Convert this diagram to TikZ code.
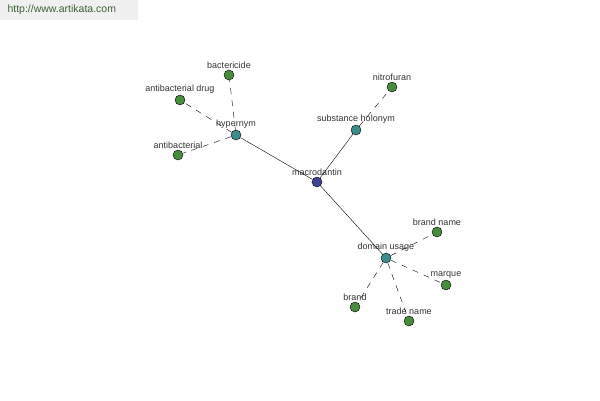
\documentclass[tikz,border=0pt]{standalone}
\usepackage{fontspec}
\setmainfont{Liberation Sans}
\definecolor{hubteal}{RGB}{60,140,140}
\definecolor{rootblue}{RGB}{60,68,150}
\definecolor{leafgreen}{RGB}{72,140,62}
\definecolor{sitegreen}{RGB}{60,100,50}
\usetikzlibrary{positioning}
\tikzset{
x=1pt, y=-1pt, % one unit per pixel of the picture
every node/.style={font=\fontsize{9}{10}\selectfont, text=black!80}, % small grey labels
every label/.style={yshift=-2.5pt}, % pulls the words a bit closer to their dots
word/.style={circle, draw=black, thin, minimum size=10pt, inner sep=0pt}, % sets the properties for each word dot
hub/.style={word, fill=hubteal},
leaf/.style={word, fill=leafgreen},
root/.style={word, fill=rootblue},
link/.style={draw=black, thin, dash pattern=on 6pt off 6pt},
}

\begin{document}
\begin{tikzpicture}
      \useasboundingbox (0,0) rectangle (600,400);
      \fill[black!6] (0,0) rectangle (138,20);
      \node[text=sitegreen, anchor=west, font=\fontsize{10.5}{12}\selectfont] (site) at (4,10) {http://www.artikata.com};

      \node[root, label=above:macrodantin] (macrodantin) at (317,182) {};
      \node[hub, label=above:hypernym] (hypernym) at (236,135) {};
      \node[hub, label=above:substance holonym] (holonym) at (356,130) {};
      \node[hub, label=above:domain usage] (usage) at (386,258) {};
      \node[leaf, label=above:bactericide] (bactericide) at (229,75) {};
      \node[leaf, label=above:antibacterial drug] (drug) at (180,100) {};
      \node[leaf, label=above:antibacterial] (antibacterial) at (178,155) {};
      \node[leaf, label=above:nitrofuran] (nitrofuran) at (392,87) {};
      \node[leaf, label=above:brand name] (brandname) at (437,232) {};
      \node[leaf, label=above:marque] (marque) at (446,285) {};
      \node[leaf, label=above:brand] (brand) at (355,307) {};
      \node[leaf, label=above:trade name] (tradename) at (409,321) {};

      \draw (macrodantin) edge node{} (hypernym)
      (macrodantin) edge node{} (holonym)
      (macrodantin) edge node{} (usage)
      (hypernym) edge[link] node{} (bactericide)
      (hypernym) edge[link] node{} (drug)
      (hypernym) edge[link] node{} (antibacterial)
      (holonym) edge[link] node{} (nitrofuran)
      (usage) edge[link] node{} (brandname)
      (usage) edge[link] node{} (marque)
      (usage) edge[link] node{} (brand)
      (usage) edge[link] node{} (tradename);
    \end{tikzpicture}
\end{document}
